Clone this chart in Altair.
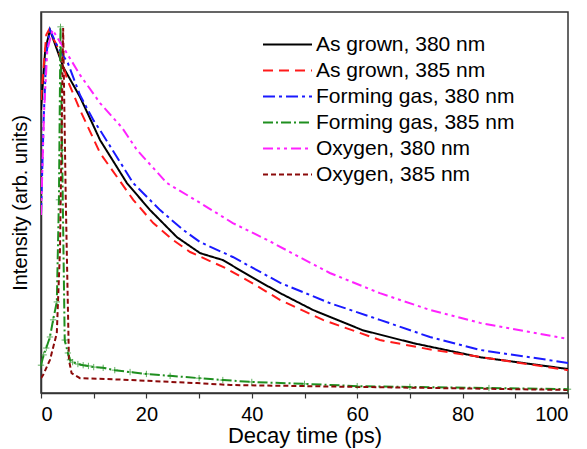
import altair as alt
import pandas as pd

# Series labels
series = [
    "As grown, 380 nm",
    "As grown, 385 nm",
    "Forming gas, 380 nm",
    "Forming gas, 385 nm",
    "Oxygen, 380 nm",
    "Oxygen, 385 nm",
]
colors = ["#000000", "#ff1a1a", "#1a1aff", "#1f8f1f", "#ff22ff", "#8b0a0a"]
dashes = [[1, 0], [10, 6], [12, 4, 3, 4], [10, 3, 2, 3], [10, 4, 3, 4, 3, 4], [5, 3]]

# As grown, 380 nm
t_ag380 = [0, 0.8, 1.7, 4.2, 7.4, 9.9, 11.2, 16.3, 20.7, 25.8, 30.2, 34.5, 40, 45.4, 51.6, 61, 70.6, 83.3, 100]
i_ag380 = [0.743, 0.900, 0.953, 0.856, 0.777, 0.703, 0.664, 0.551, 0.480, 0.409, 0.367, 0.349, 0.304, 0.262, 0.218, 0.165, 0.131, 0.094, 0.063]

# As grown, 385 nm
t_ag385 = [0, 1, 1.5, 3, 5, 7.4, 11.2, 17.5, 21.3, 25, 28.3, 35, 40, 45.4, 53.5, 64.3, 74.4, 84.6, 100]
i_ag385 = [0.769, 0.940, 0.953, 0.913, 0.822, 0.743, 0.630, 0.507, 0.446, 0.402, 0.370, 0.328, 0.289, 0.244, 0.192, 0.139, 0.113, 0.092, 0.060]

# Forming gas, 380 nm
t_fg380 = [0, 0.5, 1, 1.7, 3, 5.1, 7.4, 9.9, 11.2, 17.5, 22.6, 27, 30.2, 36.4, 45.4, 54.8, 64.3, 73.8, 83.3, 100]
i_fg380 = [0.467, 0.717, 0.887, 0.953, 0.913, 0.866, 0.782, 0.717, 0.690, 0.551, 0.480, 0.428, 0.396, 0.357, 0.289, 0.236, 0.192, 0.147, 0.113, 0.079]

# Forming gas, 385 nm
t_fg385 = [0, 0.5, 1, 1.7, 2.3, 3, 3.4, 3.7, 4.0, 4.5, 5.1, 5.5, 6, 7, 8, 9, 10, 11.8, 14, 16.9, 20, 24.5, 30, 34.5, 40, 50, 60, 70, 85, 100]
i_fg385 = [0.073, 0.100, 0.118, 0.147, 0.192, 0.239, 0.507, 0.961, 0.638, 0.139, 0.105, 0.087, 0.081, 0.076, 0.073, 0.071, 0.068, 0.066, 0.060, 0.055, 0.050, 0.045, 0.039, 0.034, 0.029, 0.024, 0.018, 0.016, 0.013, 0.010]

# Oxygen, 380 nm
t_ox380 = [0, 0.6, 1.2, 2.2, 4.2, 7.4, 11.2, 15.4, 18.2, 23.9, 30.2, 36.4, 42.9, 49, 54.8, 64.3, 73.8, 83.3, 100]
i_ox380 = [0.467, 0.743, 0.900, 0.953, 0.908, 0.835, 0.761, 0.696, 0.638, 0.551, 0.499, 0.446, 0.402, 0.357, 0.315, 0.262, 0.218, 0.184, 0.142]

# Oxygen, 385 nm
t_ox385 = [0, 0.4, 1.7, 3, 3.6, 4.2, 4.7, 5.3, 5.8, 7.4, 12, 17, 29.6, 36, 60, 100]
i_ox385 = [0.039, 0.047, 0.087, 0.157, 0.375, 0.958, 0.507, 0.087, 0.052, 0.039, 0.037, 0.034, 0.026, 0.021, 0.016, 0.008]

rows = []
for name, ts, vs in [
    (series[0], t_ag380, i_ag380),
    (series[1], t_ag385, i_ag385),
    (series[2], t_fg380, i_fg380),
    (series[3], t_fg385, i_fg385),
    (series[4], t_ox380, i_ox380),
    (series[5], t_ox385, i_ox385),
]:
    for k, (t, v) in enumerate(zip(ts, vs)):
        rows.append({"series": name, "t": t, "v": v, "order": k})
df = pd.DataFrame(rows)
df_marks = df[df["series"] == series[3]]

font = "Liberation Sans"

x_enc = alt.X(
    "t:Q",
    scale=alt.Scale(domain=[0, 100], nice=False),
    axis=alt.Axis(
        title="Decay time (ps)",
        values=[0, 10, 20, 30, 40, 50, 60, 70, 80, 90, 100],
        labelExpr="datum.value % 20 == 0 ? datum.label : ''",
        tickSize=5,
        labelPadding=6,
        labelFontSize=20,
        titleFontSize=22,
        titlePadding=1,
        grid=False,
    ),
)
y_enc = alt.Y(
    "v:Q",
    scale=alt.Scale(domain=[0, 1], nice=False),
    axis=alt.Axis(title="Intensity (arb. units)", ticks=False, labels=False, grid=False,
                  titleFontSize=20, titlePadding=11),
)

lines = alt.Chart(df).mark_line(strokeWidth=2, clip=True).encode(
    x=x_enc,
    y=y_enc,
    order="order:Q",
    color=alt.Color(
        "series:N",
        scale=alt.Scale(domain=series, range=colors),
        sort=series,
        legend=alt.Legend(
            title=None,
            orient="none",
            legendX=236,
            legendY=22,
            symbolType="M-4,0L4,0",
            symbolSize=150,
            symbolStrokeWidth=2,
            labelFontSize=21,
            labelFont=font,
            labelColor="#000000",
            labelLimit=400,
            labelOffset=18,
            rowPadding=4,
            padding=0,
        ),
    ),
    strokeDash=alt.StrokeDash(
        "series:N",
        scale=alt.Scale(domain=series, range=dashes),
        sort=series,
        legend=None,
    ),
)

marks = alt.Chart(df_marks).mark_point(
    shape="M-1,0L1,0M0,-1L0,1", filled=False, strokeWidth=1, size=40, color="#1f8f1f"
).encode(x="t:Q", y="v:Q")

chart = (
    alt.layer(lines, marks)
    .properties(
        width=527,
        height=381,
        autosize=alt.AutoSizeParams(type="none"),
        padding={"left": 33, "top": 4, "right": 11, "bottom": 56},
    )
    .configure_view(stroke="#333333", strokeWidth=1.5)
    .configure_axis(
        domainColor="#333333",
        domainWidth=1.5,
        tickColor="#333333",
        tickWidth=1.2,
        labelFont=font,
        labelColor="#000000",
        titleFont=font,
        titleFontWeight="normal",
        titleColor="#000000",
    )
)

chart.save("out.html", embed_options={"renderer": "svg", "actions": False})
